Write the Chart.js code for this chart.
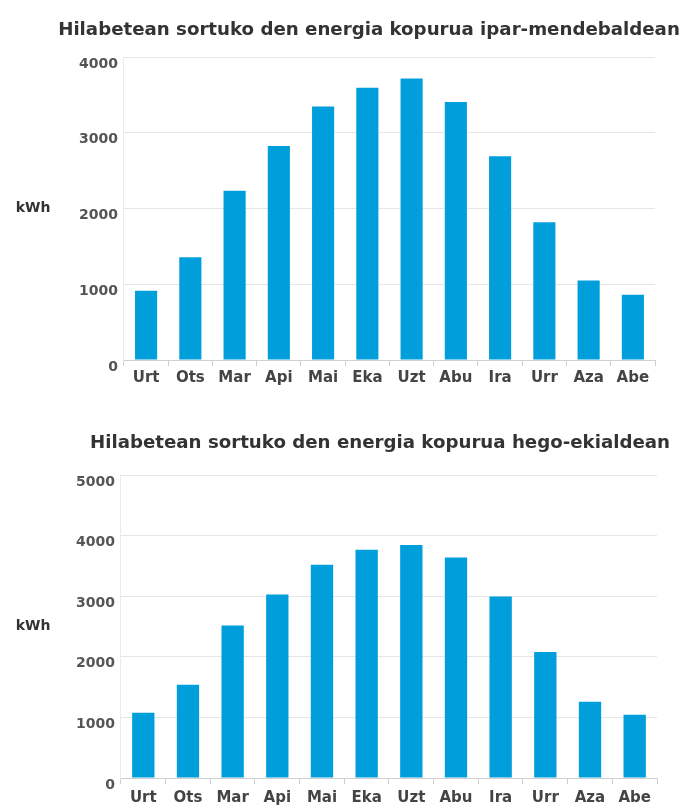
<!DOCTYPE html>
<html>
<head>
<meta charset="utf-8">
<script src="https://cdn.jsdelivr.net/npm/chart.js@4"></script>
<style>
    body { margin: 0; background: #fff; overflow: hidden; }
    .box { position: relative; width: 681px; }
    #top { height: 405px; }
    #bottom { height: 410px; }
</style>
</head>
<body>
<div class="box" id="top"><canvas id="chartNW"></canvas></div>
<div class="box" id="bottom"><canvas id="chartSE"></canvas></div>
<script>
// Data
const months = ['Urt', 'Ots', 'Mar', 'Api', 'Mai', 'Eka', 'Uzt', 'Abu', 'Ira', 'Urr', 'Aza', 'Abe'];
const northWest = [915, 1355, 2235, 2825, 3345, 3595, 3715, 3405, 2690, 1820, 1050, 860];
const southEast = [1075, 1540, 2515, 3030, 3520, 3765, 3845, 3640, 2995, 2080, 1260, 1045];
const titleNW = 'Hilabetean sortuko den energia kopurua ipar-mendebaldean';
const titleSE = 'Hilabetean sortuko den energia kopurua hego-ekialdean';
const unitLabel = 'kWh';

const barColor = '#009fdc';
const fontFamily = '"DejaVu Sans", sans-serif';

// title (not squeezed to the plot width) and the horizontal "kWh" label
const textPlugin = {
    id: 'extraText',
    afterDraw(chart, args, opts) {
        const ctx = chart.ctx;
        const area = chart.chartArea;
        ctx.save();
        ctx.fillStyle = '#333';
        ctx.textAlign = 'center';
        ctx.textBaseline = 'middle';
        ctx.font = 'bold 18.2px ' + fontFamily;
        ctx.fillText(opts.title, opts.titleX, opts.titleY);
        ctx.font = 'bold 14px ' + fontFamily;
        ctx.fillText(unitLabel, 33, (area.top + area.bottom) / 2);
        ctx.restore();
    }
};

function makeChart(id, values, yMax, pad) {
    const ctx = document.getElementById(id).getContext('2d');
    return new Chart(ctx, {
        type: 'bar',
        data: {
            labels: months,
            datasets: [{
                data: values,
                backgroundColor: barColor,
                barPercentage: 0.5,
                categoryPercentage: 1
            }]
        },
        options: {
            responsive: true,
            maintainAspectRatio: false,
            animation: false,
            layout: { padding: pad.layout },
            plugins: {
                legend: { display: false },
                tooltip: { enabled: false },
                extraText: pad.text
            },
            scales: {
                x: {
                    grid: { drawOnChartArea: false, color: '#cfcfcf', tickLength: 6 },
                    border: { color: '#cfcfcf' },
                    ticks: { color: '#444', font: { family: fontFamily, size: 15, weight: 'bold' }, padding: pad.xTick }
                },
                y: {
                    min: 0,
                    max: yMax,
                    grid: { color: '#e6e6e6', drawTicks: false },
                    border: { color: '#ececec' },
                    ticks: {
                        stepSize: 1000,
                        padding: 6,
                        color: '#555',
                        labelOffset: 7,
                        font: { family: fontFamily, size: 14, weight: 'bold' },
                        callback: v => String(v)
                    }
                }
            }
        },
        plugins: [textPlugin]
    });
}

makeChart('chartNW', northWest, 4000, {
    layout: { left: 73, right: 26, top: 57, bottom: 15 },
    text: { title: titleNW, titleX: 369, titleY: 30 },
    xTick: 3
});
makeChart('chartSE', southEast, 5000, {
    layout: { left: 70, right: 24, top: 70, bottom: 3 },
    text: { title: titleSE, titleX: 380, titleY: 38 },
    xTick: 5
});
</script>
</body>
</html>
